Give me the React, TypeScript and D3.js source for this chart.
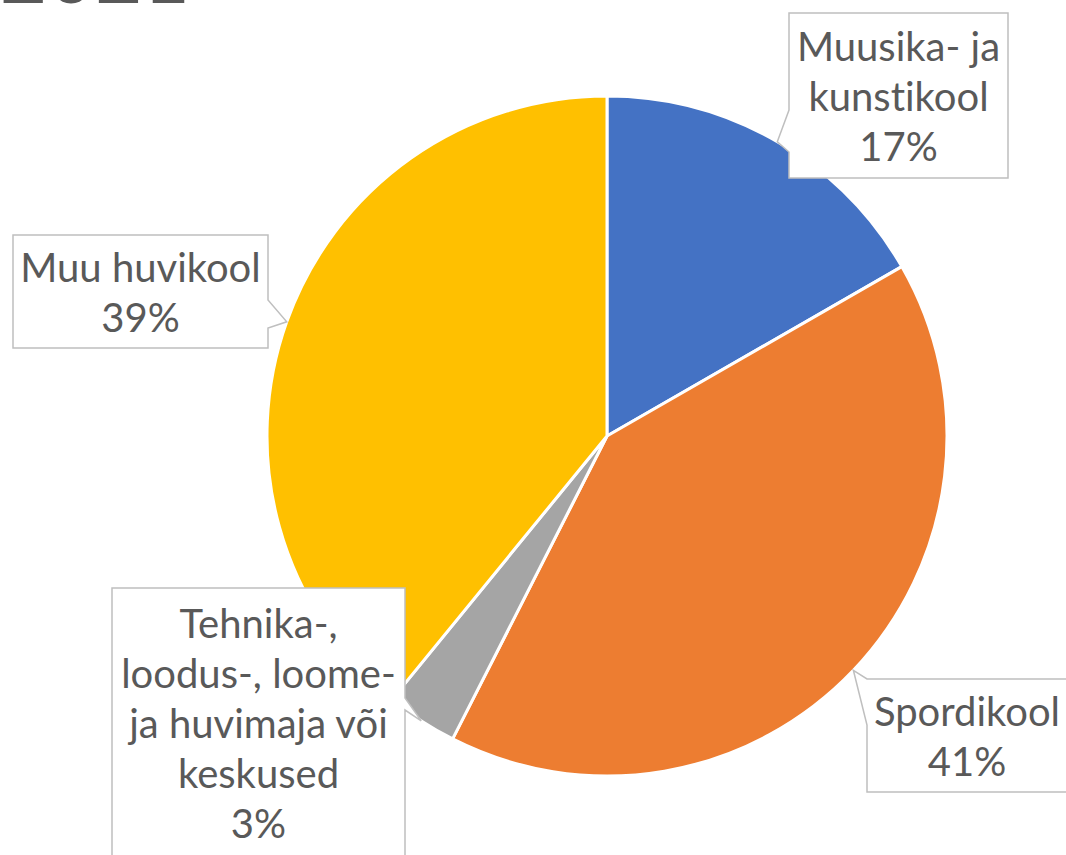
import React from "react";
import * as d3 from "d3";

// slices, clockwise from 12 o'clock
const categories = [
  "Muusika- ja\nkunstikool",
  "Spordikool",
  "Tehnika-,\nloodus-, loome-\nja huvimaja või\nkeskused",
  "Muu huvikool",
];
const values = [16.7, 40.8, 3.4, 39.1];
const colors = ["#4472C4", "#ED7D31", "#A5A5A5", "#FFC000"];
const titleText = "9.2021";

// callout boxes: x, y, w, h, side of the notch, notch base (offsets along side)
const callouts = [
  { x: 789, y: 13, w: 219, h: 165, side: "left", base: [97, 139] },
  { x: 867, y: 679, w: 200, h: 113, side: "left", base: [0, 46] },
  { x: 112, y: 588, w: 293, h: 270, side: "right", base: [110, 122] },
  { x: 13, y: 235, w: 255, h: 113, side: "right", base: [65, 93] },
];

const W = 1066;
const H = 855;
const cx = 607;
const cy = 436;
const R = 340;
const lineH = 50;

function calloutPath(b: any, tip: [number, number]) {
  const { x, y, w, h, side, base } = b;
  const pts: [number, number][] = [];
  if (side === "left") {
    pts.push([x, y]);
    pts.push([x + w, y]);
    pts.push([x + w, y + h]);
    pts.push([x, y + h]);
    pts.push([x, y + base[1]]);
    pts.push(tip);
    pts.push([x, y + base[0]]);
  } else {
    pts.push([x, y]);
    pts.push([x + w, y]);
    pts.push([x + w, y + base[0]]);
    pts.push(tip);
    pts.push([x + w, y + base[1]]);
    pts.push([x + w, y + h]);
    pts.push([x, y + h]);
  }
  return d3.line()(pts) + "Z";
}

export default function App() {
  const total = d3.sum(values);
  const pie = d3.pie<number>().sort(null).startAngle(0).endAngle(2 * Math.PI);
  const arcs = pie(values);
  const arc = d3.arc<d3.PieArcDatum<number>>().innerRadius(0).outerRadius(R);
  const edge = d3.arc<d3.PieArcDatum<number>>().innerRadius(R).outerRadius(R);

  return (
    <div style={{ position: "absolute", left: 0, top: 0 }}>
      <svg width={W} height={H} style={{ display: "block", background: "#fff" }}>
        <text
          x={190}
          y={3}
          textAnchor="end"
          fontFamily="Lato, 'Liberation Sans', sans-serif"
          fontSize={82}
          fill="#595959"
        >
          {titleText}
        </text>
        <g transform={`translate(${cx},${cy})`}>
          {arcs.map((a, i) => (
            <path key={i} d={arc(a) || ""} fill={colors[i]} stroke="#fff" strokeWidth={3} strokeLinejoin="round" />
          ))}
        </g>
        {arcs.map((a, i) => {
          const c = edge.centroid(a);
          const tip: [number, number] = [cx + c[0], cy + c[1]];
          const b = callouts[i];
          const lines = categories[i].split("\n").concat([
            `${Math.round((values[i] / total) * 100)}%`,
          ]);
          const mid = b.y + b.h / 2 + 15;
          const tx = b.x + b.w / 2;
          return (
            <g key={"c" + i}>
              <path d={calloutPath(b, tip)} fill="#fff" stroke="#BFBFBF" strokeWidth={1.5} />
              <text
                fontFamily="Lato, 'Liberation Sans', sans-serif"
                fontSize={40}
                fill="#595959"
                textAnchor="middle"
                style={{ fontVariantLigatures: "none" }}
              >
                {lines.map((l, j) => (
                  <tspan key={j} x={tx} y={mid + (j - (lines.length - 1) / 2) * lineH}>
                    {l}
                  </tspan>
                ))}
              </text>
            </g>
          );
        })}
      </svg>
    </div>
  );
}
